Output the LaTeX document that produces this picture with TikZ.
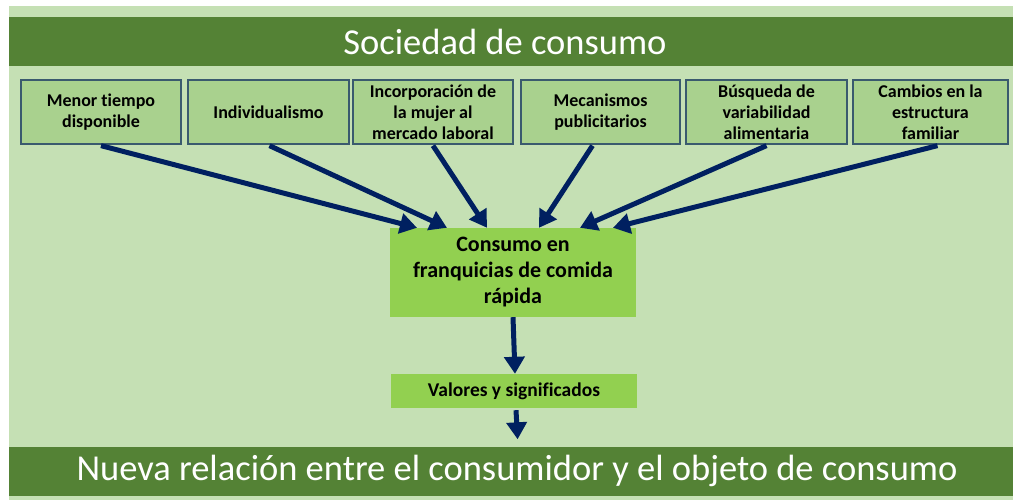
\documentclass[tikz,border=0pt]{standalone}
\usepackage{fontspec}
\setmainfont{Carlito}[Ligatures=NoCommon]
\usetikzlibrary{arrows.meta}
\definecolor{panel}{HTML}{C5E0B4}
\definecolor{bandgreen}{HTML}{548235}
\definecolor{boxfill}{HTML}{A9D18E}
\definecolor{boxline}{HTML}{3A5A6E}
\definecolor{corefill}{HTML}{92D050}
\definecolor{navy}{HTML}{002060}
\begin{document}
\begin{tikzpicture}[x=1pt,y=-1pt,
  band/.style={fill=bandgreen, inner sep=0pt, minimum width=1004pt, minimum height=49pt},
  bandtext/.style={text=white, inner sep=0pt, font=\fontsize{36.5}{40}\selectfont},
  factor/.style={draw=boxline, line width=1.3pt, fill=boxfill, minimum height=64pt, inner sep=0pt, align=center, font=\fontsize{18}{21}\selectfont\bfseries},
  corebox/.style={fill=corefill, inner sep=0pt, align=center},
  flow/.style={draw=navy, line width=5pt, -{Triangle[length=17pt,width=20pt]}}
]
\useasboundingbox (0,0) rectangle (1013,500);
\fill[white] (0,0) rectangle (1013,500);
\fill[panel] (9,6) rectangle (1013,500);

\node[band] (top) at (511,41.5) {};
\node[bandtext] (toptext) at (505,42) {Sociedad de consumo};
\node[band] (bottom) at (511,471) {};
\node[bandtext] (bottomtext) at (517,471) {Nueva relación entre el consumidor y el objeto de consumo};

\node[factor, minimum width=160pt] (b1) at (101,112) {Menor tiempo\\disponible};
\node[factor, minimum width=161pt] (b2) at (268.5,112) {Individualismo};
\node[factor, minimum width=160pt] (b3) at (433,112) {Incorporación de\\la mujer al\\mercado laboral};
\node[factor, minimum width=159pt] (b4) at (600.5,112) {Mecanismos\\publicitarios};
\node[factor, minimum width=161pt] (b5) at (766.5,112) {Búsqueda de\\variabilidad\\alimentaria};
\node[factor, minimum width=155pt] (b6) at (930.5,112) {Cambios en la\\estructura\\familiar};

\node[corebox, minimum width=246pt, minimum height=89pt, font=\fontsize{22}{26}\selectfont\bfseries] (c) at (513,272.5) {Consumo en\\franquicias de comida\\rápida};
\node[corebox, minimum width=246pt, minimum height=34pt, font=\fontsize{19.5}{22}\selectfont\bfseries] (v) at (514,391) {Valores y significados};

\draw[flow] ([shift={(0,1)}]b1.south) -- ([xshift=-96pt]c.north);
\draw[flow] ([shift={(1,1)}]b2.south) -- ([xshift=-66pt]c.north);
\draw[flow] ([shift={(0,1)}]b3.south) -- ([xshift=-26pt]c.north);
\draw[flow] ([shift={(-8,1)}]b4.south) -- ([xshift=26pt]c.north);
\draw[flow] ([shift={(0,1)}]b5.south) -- ([xshift=67pt]c.north);
\draw[flow] ([shift={(7,1)}]b6.south) -- ([xshift=100pt]c.north);
\draw[flow] (c.south) -- ([xshift=1pt]v.north);
\draw[flow, shorten >=7pt] ([shift={(2,2)}]v.south) -- ([xshift=7pt]bottom.north);
\end{tikzpicture}
\end{document}
